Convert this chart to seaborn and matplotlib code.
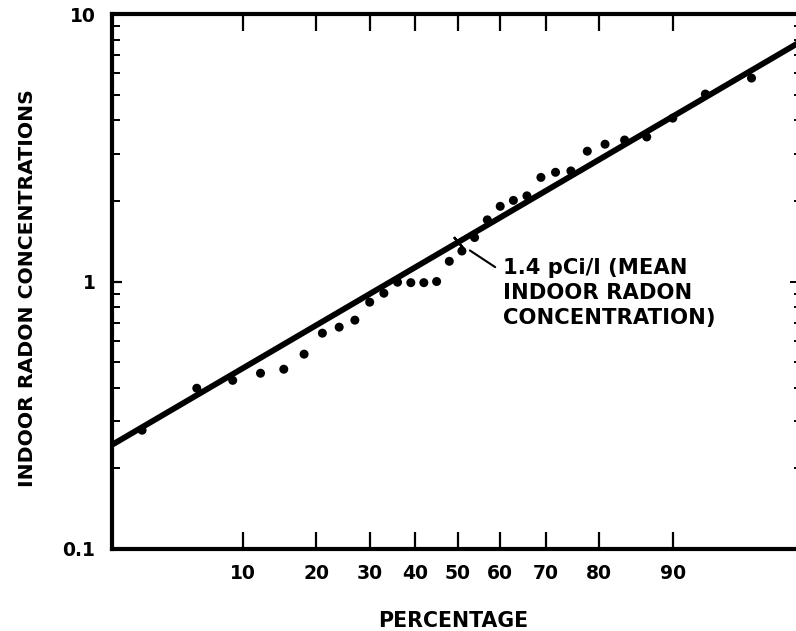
import math

import numpy as np
import pandas as pd
import matplotlib
matplotlib.use("Agg")
import matplotlib.pyplot as plt
import seaborn as sns
from matplotlib.ticker import (FixedFormatter, FixedLocator, LogLocator,
                               NullFormatter, NullLocator)

# Cumulative percentage of homes vs. measured indoor radon (pCi/l)
percent = [3, 6, 9, 12, 15, 18, 21, 24, 27, 30, 33, 36, 39, 42, 45, 48,
           51, 54, 57, 60, 63, 66, 69, 72, 75, 78, 81, 84, 87, 90, 93, 96]
concentration = [0.278, 0.399, 0.427, 0.454, 0.470, 0.535, 0.641, 0.675,
                 0.717, 0.837, 0.904, 0.994, 0.990, 0.990, 1.000, 1.19,
                 1.30, 1.46, 1.70, 1.91, 2.01, 2.09, 2.45, 2.56,
                 2.59, 3.07, 3.26, 3.38, 3.47, 4.08, 5.02, 5.76]

# Lognormal fit: geometric mean and geometric standard deviation
mean_conc = 1.4
geo_sd = 2.33

pct_ticks = [10, 20, 30, 40, 50, 60, 70, 80, 90]
pct_tick_labels = ["10", "20", "30", "40", "50", "60", "70", "80", "90"]
conc_ticks = [0.1, 1, 10]
conc_tick_labels = ["0.1", "1", "10"]
pct_range = (1.97, 97.84)
conc_range = (0.1, 10)

mean_label = "1.4 pCi/l (MEAN\nINDOOR RADON\nCONCENTRATION)"


# ---- normal-probability axis -------------------------------------------
_erf = np.vectorize(math.erf, otypes=[float])


def _z_to_pct(z):
    z = np.asarray(z, dtype=float)
    return 50.0 * (1.0 + _erf(z / math.sqrt(2.0)))


def _pct_to_z(p):
    p = np.clip(np.asarray(p, dtype=float), 1e-10, 100 - 1e-10)
    lo = np.full_like(p, -9.0)
    hi = np.full_like(p, 9.0)
    for _ in range(64):
        mid = 0.5 * (lo + hi)
        below = _z_to_pct(mid) < p
        lo = np.where(below, mid, lo)
        hi = np.where(below, hi, mid)
    return 0.5 * (lo + hi)


# ---- figure ---------------------------------------------------------------
sns.set_style("white")
plt.rcParams["font.family"] = ["DejaVu Sans"]
plt.rcParams["font.weight"] = "bold"

W, H = 796, 631
fig = plt.figure(figsize=(W / 100, H / 100), dpi=100)
ax = fig.add_axes([112 / W, (H - 549) / H, (797 - 112) / W, (549 - 14) / H])

ax.set_xscale("function", functions=(_pct_to_z, _z_to_pct))
ax.set_yscale("log")

df = pd.DataFrame({"percent": percent, "concentration": concentration})

# fitted lognormal line across the full axis
fit_pct = np.array(pct_range)
fit_conc = mean_conc * geo_sd ** _pct_to_z(fit_pct)
sns.lineplot(x=fit_pct, y=fit_conc, ax=ax, color="black", linewidth=4.2,
             zorder=2)

sns.scatterplot(data=df, x="percent", y="concentration", ax=ax,
                color="black", s=42, edgecolor="none", zorder=3, legend=False)

# cross-mark on the fit line at the geometric mean
ax.plot([50], [mean_conc], linestyle="none", marker=(2, 2, 40),
        markersize=10, markeredgewidth=1.6, color="black", zorder=4)
ax.annotate("", xy=(50, mean_conc), xytext=(27, -17.8),
            textcoords="offset points",
            arrowprops=dict(arrowstyle="-", color="black", lw=1.5,
                            shrinkA=0, shrinkB=10.5))
ax.annotate(mean_label, xy=(50, mean_conc), xytext=(32.6, -11.3),
            textcoords="offset points", ha="left", va="top",
            fontsize=15.2, fontweight="bold", linespacing=1.3, color="black")

ax.set_xlim(*pct_range)
ax.set_ylim(*conc_range)

ax.xaxis.set_major_locator(FixedLocator(pct_ticks))
ax.xaxis.set_major_formatter(FixedFormatter(pct_tick_labels))
ax.xaxis.set_minor_locator(NullLocator())
ax.yaxis.set_major_locator(FixedLocator(conc_ticks))
ax.yaxis.set_major_formatter(FixedFormatter(conc_tick_labels))
ax.yaxis.set_minor_locator(LogLocator(base=10, subs=np.arange(2, 10)))
ax.yaxis.set_minor_formatter(NullFormatter())

ax.tick_params(axis="x", which="major", direction="in", length=12,
               width=1.6, top=True, bottom=True, labelsize=13.5, pad=11,
               colors="black")
ax.tick_params(axis="y", which="major", direction="in", length=7.5,
               width=1.6, left=True, right=False, labelsize=13.5, pad=12,
               colors="black")
ax.tick_params(axis="y", which="minor", direction="in", length=6,
               width=1.4, left=True, right=False, colors="black")

# short inward ticks along the right edge
sec = ax.secondary_yaxis("right")
sec.spines["right"].set_visible(False)
sec.yaxis.set_major_locator(FixedLocator(conc_ticks))
sec.yaxis.set_major_formatter(NullFormatter())
sec.yaxis.set_minor_locator(LogLocator(base=10, subs=np.arange(2, 10)))
sec.yaxis.set_minor_formatter(NullFormatter())
sec.tick_params(axis="y", which="major", direction="in", length=5,
                width=1.4, colors="black")
sec.tick_params(axis="y", which="minor", direction="in", length=2.5,
                width=1.4, colors="black")

for side in ("left", "top", "bottom"):
    ax.spines[side].set_linewidth(3)
    ax.spines[side].set_color("black")
ax.spines["right"].set_visible(False)

ax.set_xlabel("PERCENTAGE", fontsize=14.8, fontweight="bold", color="black")
ax.set_ylabel("INDOOR RADON CONCENTRATIONS", fontsize=14.7,
              fontweight="bold", color="black")
ax.xaxis.set_label_coords(0.498, -0.1150)
ax.yaxis.set_label_coords(-0.1095, 0.488)

fig.savefig("out.png", dpi=100)
